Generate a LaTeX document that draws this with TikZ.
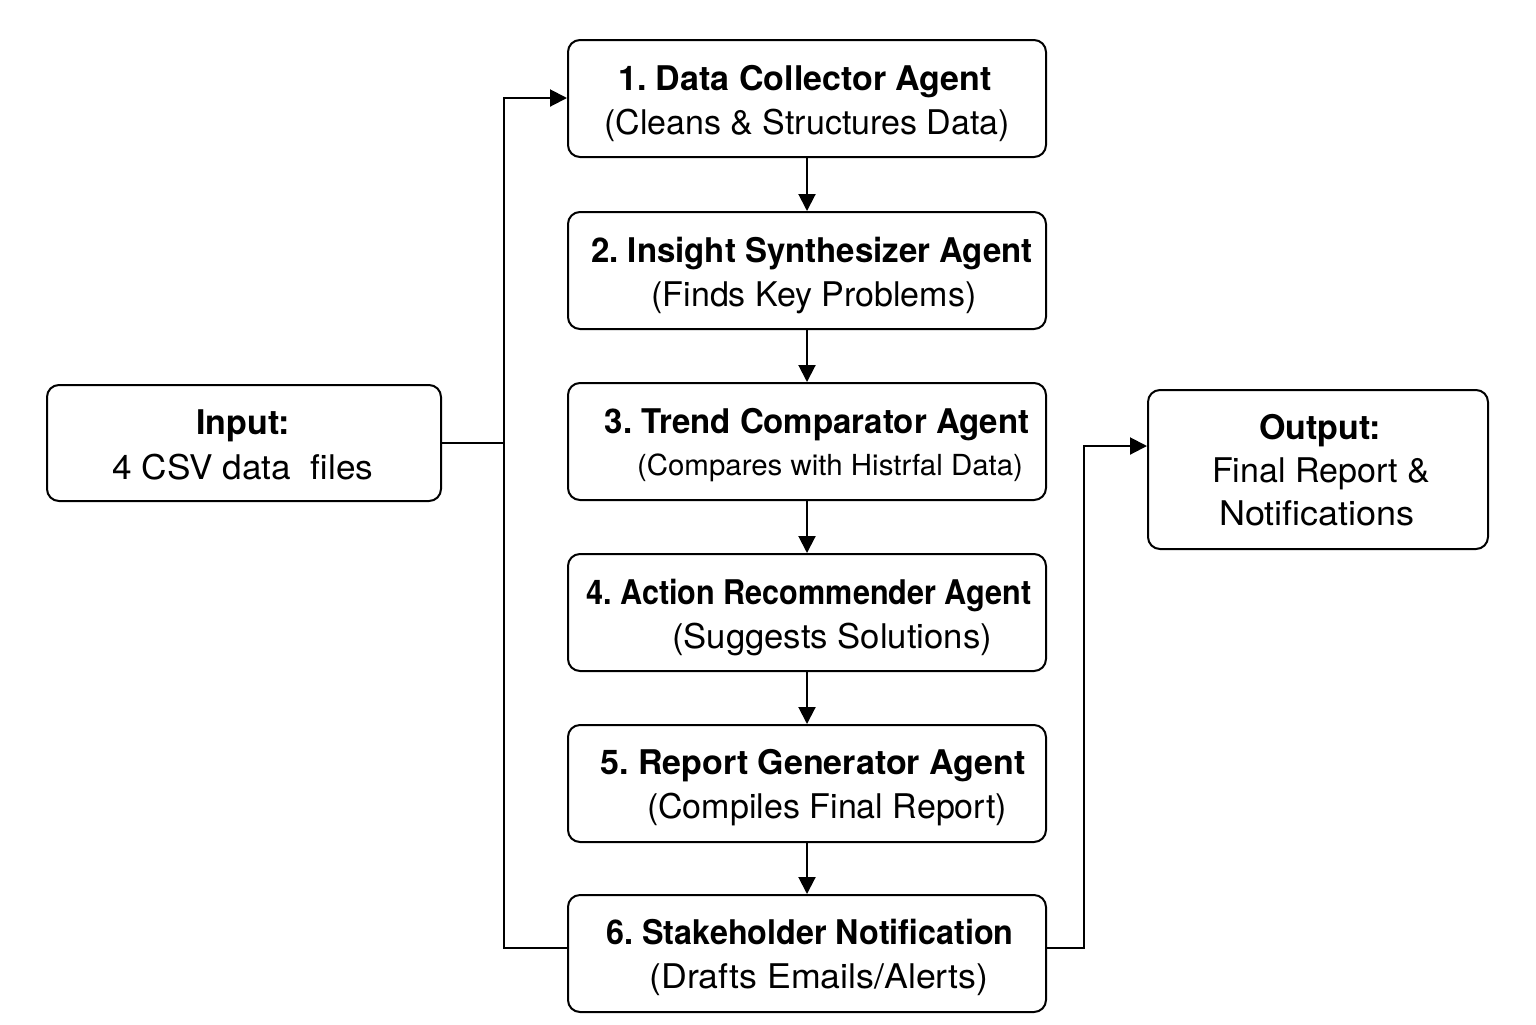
\documentclass[tikz,border=0pt]{standalone}
\usepackage{fontspec}
\setmainfont{TeX Gyre Heros}
\usetikzlibrary{arrows.meta}
\frenchspacing
\tikzset{
  box/.style={draw=black, line width=1pt, rounded corners=6pt, fill=white, inner sep=0pt},
  ttl/.style={inner sep=0pt, text height=12.2pt, text depth=0pt, font=\fontsize{17}{20}\selectfont\bfseries},
  sub/.style={inner sep=0pt, text height=12.2pt, text depth=0pt, font=\fontsize{17}{20}\selectfont},
  subs/.style={inner sep=0pt, text height=10.4pt, text depth=0pt, font=\fontsize{14.5}{17}\selectfont},
  conn/.style={draw=black, line width=1pt},
  arr/.style={conn, -{Triangle[length=8.5pt,width=8.5pt]}}
}
\begin{document}
\begin{tikzpicture}[x=0.5pt,y=-0.5pt]
\useasboundingbox (0,0) rectangle (1536,1024);
\fill[white] (0,0) rectangle (1536,1024);
% agent boxes
\node[box, minimum width=239pt, minimum height=58.5pt] (b1) at (807,98.5) {};
\node[box, minimum width=239pt, minimum height=58.5pt] (b2) at (807,270.5) {};
\node[box, minimum width=239pt, minimum height=58.5pt] (b3) at (807,441.5) {};
\node[box, minimum width=239pt, minimum height=58.5pt] (b4) at (807,612.5) {};
\node[box, minimum width=239pt, minimum height=58.5pt] (b5) at (807,783.5) {};
\node[box, minimum width=239pt, minimum height=58.5pt] (b6) at (807,953.5) {};
\node[box, minimum width=197pt, minimum height=58pt] (in) at (244,443) {};
\node[box, minimum width=170pt, minimum height=79.5pt] (out) at (1318,469.5) {};
% texts
\node[ttl] (t1) at (805,78) {1. Data Collector Agent};
\node[sub] (s1) at (807,122) {(Cleans \& Structures Data)};
\node[ttl] (t2) at (812,250) {\scalebox{0.97}[1]{2. Insight Synthesizer Agent}};
\node[sub] (s2) at (814,294) {(Finds Key Problems)};
\node[ttl] (t3) at (817,421) {\scalebox{0.97}[1]{3. Trend Comparator Agent}};
\node[subs] (s3) at (830,465) {\scalebox{1.015}[1]{(Compares with Histrfal Data)}};
\node[ttl] (t4) at (809,592) {\scalebox{0.90}[1]{4. Action Recommender Agent}};
\node[sub] (s4) at (832,636) {\scalebox{1.02}[1]{(Suggests Solutions)}};
\node[ttl] (t5) at (813,762) {5. Report Generator Agent};
\node[sub] (s5) at (827,806) {(Compiles Final Report)};
\node[ttl] (t6) at (810,932) {\scalebox{0.95}[1]{6. Stakeholder Notification}};
\node[sub] (s6) at (819,976) {\scalebox{1.05}[1]{(Drafts Emails/Alerts)}};
\node[ttl] (ti) at (243,422) {Input:};
\node[sub] (si) at (243,467) {\scalebox{1.035}[1]{4 CSV data\ \ files}};
\node[ttl] (to) at (1320,427) {Output:};
\node[sub] (so1) at (1321,470) {Final Report \&};
\node[sub] (so2) at (1317,513) {\scalebox{1.06}[1]{Notifications}};
% connectors
\draw[arr] (b1.south) -- (b2.north);
\draw[arr] (b2.south) -- (b3.north);
\draw[arr] (b3.south) -- (b4.north);
\draw[arr] (b4.south) -- (b5.north);
\draw[arr] (b5.south) -- (b6.north);
\coordinate (jtop) at (504,98);
\coordinate (jbot) at (504,948);
\coordinate (jr) at (1084,446);
\draw[conn] (in.east) -- (in.east -| jtop);
\draw[arr] (b6.west |- jbot) -- (jbot) -- (jtop) -- (b1.west |- jtop);
\draw[arr] (b6.east |- jbot) -| (jr) -- (out.west |- jr);
\end{tikzpicture}
\end{document}
